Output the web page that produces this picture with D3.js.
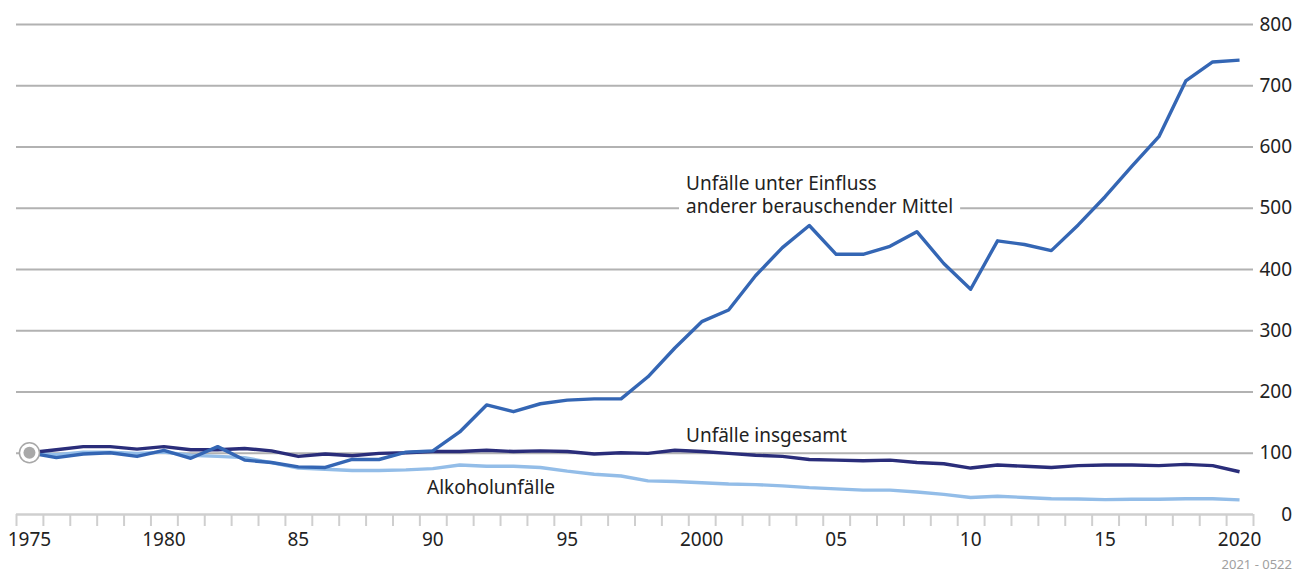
<!DOCTYPE html>
<html>
<head>
<meta charset="utf-8">
<script src="https://cdn.jsdelivr.net/npm/d3@7"></script>
<style>
body{margin:0;background:#fff;}
svg{display:block;font-family:"Noto Sans",sans-serif;}
</style>
</head>
<body>
<svg id="chart"></svg>
<script>
var years = d3.range(1975, 2021);
var yearLabels = ["1975","1980","85","90","95","2000","05","10","15","2020"];
var yTicks = [0,100,200,300,400,500,600,700,800];

// Index 1975 = 100
var otherDrugs = [100,92,98,100,94,104,91,110,88,84,77,76,89,89,101,103,134,178,167,180,186,188,188,224,271,314,333,389,435,471,424,424,437,461,409,367,446,440,430,472,518,568,616,707,738,741];
var total = [100,105,110,110,106,110,105,105,107,103,94,98,95,99,100,102,102,104,102,103,102,98,100,99,104,102,99,96,94,89,88,87,88,84,82,75,80,78,76,79,80,80,79,81,79,69];
var alcohol = [100,97,101,101,99,101,96,94,92,84,75,73,71,71,72,74,80,78,78,76,70,65,62,54,53,51,49,48,46,43,41,39,39,36,32,27,29,27,25,24.5,23.5,24,24,25,25,23];

var width = 1306, height = 573;
var plotLeft = 16, plotRight = 1253, plotTop = 24, plotBottom = 514;

var svg = d3.select("#chart").attr("width", width).attr("height", height);

var x = d3.scaleLinear().domain([1974.5, 2020.5]).range([plotLeft, plotRight]);
var y = d3.scaleLinear().domain([0, 800]).range([plotBottom, plotTop]);

// gridlines + right labels
var yAxis = svg.append("g")
  .attr("transform", "translate(" + plotRight + ",0)")
  .call(d3.axisRight(y).tickValues(yTicks).tickSize(-(plotRight - plotLeft)).tickPadding(0));
yAxis.select(".domain").remove();
yAxis.selectAll(".tick line")
  .attr("stroke", function(d){ return d === 0 ? "#cfcfcf" : "#b2b2b2"; })
  .attr("stroke-width", function(d){ return d === 0 ? 2.5 : 2; });
yAxis.selectAll(".tick text")
  .attr("x", 39).attr("text-anchor", "end")
  .attr("font-size", 19).attr("fill", "#222")
  .attr("font-family", "Noto Sans, sans-serif");

// x ticks at year boundaries
var bounds = d3.range(1974.5, 2021.5, 1);
var xAxis = svg.append("g")
  .attr("transform", "translate(0," + plotBottom + ")")
  .call(d3.axisBottom(x).tickValues(bounds).tickSize(12).tickFormat(""));
xAxis.select(".domain").remove();
xAxis.selectAll(".tick line").attr("stroke", "#cfcfcf").attr("stroke-width", 2);

svg.append("g").selectAll("text")
  .data(yearLabels)
  .enter()
  .append("text")
  .attr("x", function(d, i){ return x(1975 + i * 5); })
  .attr("y", 546)
  .attr("text-anchor", "middle")
  .attr("font-size", 19)
  .attr("fill", "#222")
  .text(function(d){ return d; });

// labels with white boxes
var labels = [
  {text:"Unfälle unter Einfluss", x:686, y:190},
  {text:"anderer berauschender Mittel", x:686, y:213},
  {text:"Unfälle insgesamt", x:686, y:442},
  {text:"Alkoholunfälle", x:427, y:494}
];
labels.forEach(function(l){
  var g = svg.append("g");
  var t = g.append("text")
    .attr("x", l.x).attr("y", l.y)
    .attr("font-size", 19).attr("fill", "#222")
    .text(l.text);
  var b = t.node().getBBox();
  g.insert("rect", "text")
    .attr("x", b.x - 7).attr("y", l.y - 15)
    .attr("width", b.width + 14).attr("height", 20)
    .attr("fill", "#fff");
});

var line = d3.line()
  .x(function(d, i){ return x(years[i]); })
  .y(function(d){ return y(d); });

var series = [
  {values: alcohol, color: "#93bde8"},
  {values: total, color: "#2a2d7a"},
  {values: otherDrugs, color: "#3466b4"}
];
svg.append("g").selectAll("path")
  .data(series)
  .enter()
  .append("path")
  .attr("d", function(d){ return line(d.values); })
  .attr("fill", "none")
  .attr("stroke", function(d){ return d.color; })
  .attr("stroke-width", 3.4)
  .attr("stroke-linejoin", "round");

// base year marker
svg.append("circle")
  .attr("cx", x(1975)).attr("cy", y(100)).attr("r", 10)
  .attr("fill", "#fff").attr("stroke", "#a8a8a8").attr("stroke-width", 1.5);
svg.append("circle")
  .attr("cx", x(1975)).attr("cy", y(100)).attr("r", 6)
  .attr("fill", "#a8a8a8");

svg.append("text")
  .attr("x", 1292).attr("y", 569)
  .attr("text-anchor", "end")
  .attr("font-size", 13)
  .attr("fill", "#a0a0a0")
  .text("2021 - 0522");
</script>
</body>
</html>
